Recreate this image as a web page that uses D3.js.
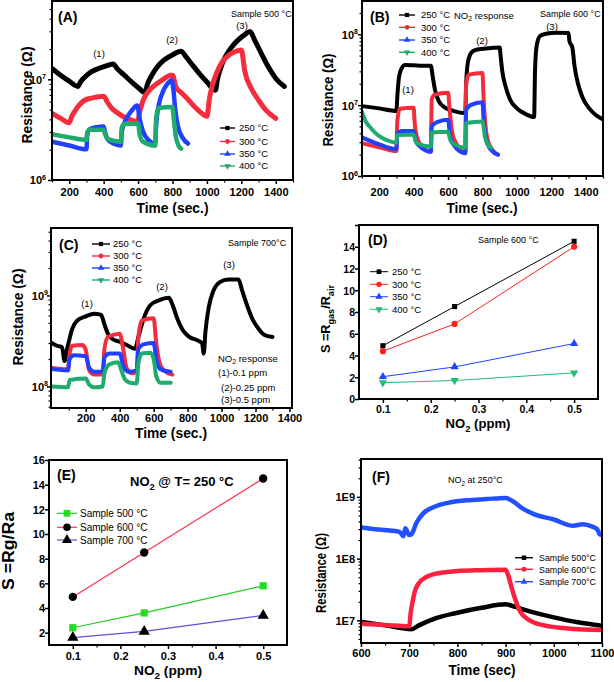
<!DOCTYPE html>
<html><head><meta charset="utf-8">
<script src="https://cdn.jsdelivr.net/npm/d3@7"></script>
<style>body{margin:0;background:#fff}svg{display:block}</style>
</head><body>
<svg id="c" width="614" height="682"></svg>
<script>
// ---------------- DATA ----------------
const tempLabels = ["250 °C", "300 °C", "350 °C", "400 °C"];
const timeTicks = [200, 400, 600, 800, 1000, 1200, 1400];
const timeMinor = [100, 300, 500, 700, 900, 1100, 1300, 1500];
const timeTicksF = [600, 700, 800, 900, 1000, 1100];
const timeMinorF = [650, 750, 850, 950, 1050];
const concTicks = [0.1, 0.2, 0.3, 0.4, 0.5];
const concMinor = [0.15, 0.25, 0.35, 0.45];
const sTicksD = [0, 2, 4, 6, 8, 10, 12, 14, 16];
const sTicksE = [2, 4, 6, 8, 10, 12, 14, 16];

// Panel A (sample 500 °C) : [time, resistance]
const a250 = [[100,1.28e7],[150,1.1e7],[200,9.6e6],[250,8.5e6],[265,9.4e6],[290,1.05e7],[330,1.19e7],[370,1.28e7],[410,1.35e7],[455,1.42e7],[480,1.27e7],[520,1.1e7],[560,9.5e6],[600,8.3e6],[640,7.4e6],[655,9.0e6],[680,1.1e7],[710,1.32e7],[750,1.55e7],[800,1.75e7],[850,1.9e7],[880,1.66e7],[920,1.36e7],[960,1.12e7],[1000,9.4e6],[1050,7.8e6],[1060,9.8e6],[1080,1.3e7],[1105,1.65e7],[1140,2.05e7],[1180,2.45e7],[1220,2.78e7],[1250,2.98e7],[1280,2.4e7],[1320,1.75e7],[1360,1.3e7],[1400,1.02e7],[1450,8.5e6]];
const a300 = [[100,4.6e6],[150,4.1e6],[200,3.7e6],[215,4.3e6],[235,4.9e6],[260,5.6e6],[290,6.2e6],[330,6.5e6],[370,6.7e6],[400,6.8e6],[420,6.0e6],[445,5.2e6],[475,4.7e6],[510,4.3e6],[550,4.0e6],[597,3.8e6],[610,4.8e6],[630,6.2e6],[660,7.6e6],[700,8.8e6],[740,9.8e6],[790,1.1e7],[800,1.1e7],[820,8.4e6],[850,7.4e6],[880,6.6e6],[930,5.3e6],[970,4.6e6],[1000,4.3e6],[1015,6.5e6],[1030,8.5e6],[1060,1.2e7],[1090,1.5e7],[1130,1.75e7],[1170,1.9e7],[1200,1.96e7],[1220,1.2e7],[1258,8.1e6],[1300,6.2e6],[1340,5.0e6],[1400,4.1e6]];
const a350 = [[100,2.4e6],[200,2.2e6],[300,2.02e6],[305,2.8e6],[320,3.2e6],[360,3.35e6],[400,3.4e6],[410,2.9e6],[425,2.5e6],[460,2.3e6],[500,2.2e6],[505,3.0e6],[530,4.0e6],[560,4.8e6],[595,5.5e6],[610,4.0e6],[630,3.0e6],[660,2.5e6],[700,2.3e6],[705,3.5e6],[720,5.5e6],[745,7.6e6],[770,9.0e6],[795,9.8e6],[805,8.0e6],[815,5.2e6],[830,3.5e6],[860,2.6e6],[890,2.3e6]];
const a400 = [[100,2.85e6],[200,2.65e6],[300,2.5e6],[305,3.0e6],[320,3.15e6],[400,3.15e6],[410,2.8e6],[425,2.55e6],[500,2.4e6],[505,3.3e6],[520,3.6e6],[600,3.65e6],[610,2.8e6],[630,2.4e6],[700,2.2e6],[705,4.2e6],[720,5.2e6],[800,5.3e6],[808,4.0e6],[818,2.8e6],[835,2.2e6],[850,2.05e6]];

// Panel B (sample 600 °C)
const b250 = [[100,9.7e6],[200,9.0e6],[300,8.3e6],[305,1.3e7],[315,2.5e7],[330,3.3e7],[350,3.7e7],[400,3.65e7],[450,3.6e7],[500,3.6e7],[510,2.6e7],[525,1.6e7],[545,1.15e7],[580,9.3e6],[630,8.3e6],[700,7.7e6],[705,2.0e7],[715,4.0e7],[735,5.5e7],[760,6.0e7],[820,6.3e7],[900,6.5e7],[905,5.0e7],[915,3.0e7],[935,1.8e7],[960,1.2e7],[1000,9.0e6],[1050,7.5e6],[1100,6.8e6],[1105,3.0e7],[1115,7.0e7],[1135,9.5e7],[1170,1.02e8],[1230,1.05e8],[1300,1.04e8],[1305,8.0e7],[1322,6.5e7],[1335,3.5e7],[1355,2.0e7],[1380,1.3e7],[1420,9.0e6],[1460,7.2e6],[1500,6.3e6]];
const b300 = [[100,2.9e6],[200,2.55e6],[300,2.25e6],[305,6.0e6],[320,8.9e6],[400,9.2e6],[405,6.0e6],[420,3.5e6],[450,2.6e6],[500,2.2e6],[505,1.2e7],[520,1.4e7],[600,1.5e7],[610,8.0e6],[625,4.0e6],[650,2.8e6],[700,2.1e6],[705,2.0e7],[720,2.7e7],[800,2.85e7],[805,1.5e7],[815,6.0e6],[830,3.2e6],[860,2.3e6],[890,2.0e6]];
const b350 = [[100,3.5e6],[200,2.8e6],[300,2.4e6],[305,4.0e6],[330,4.3e6],[400,4.3e6],[410,3.2e6],[430,2.7e6],[500,2.2e6],[505,5.0e6],[540,5.8e6],[600,6.2e6],[610,4.0e6],[630,2.8e6],[700,2.1e6],[705,8.5e6],[730,1.0e7],[800,1.1e7],[805,7.0e6],[815,4.0e6],[830,2.8e6],[860,2.2e6],[890,2.0e6]];
const b400 = [[100,8.0e6],[120,6.0e6],[150,4.8e6],[180,4.0e6],[220,3.4e6],[260,3.1e6],[300,2.95e6],[305,3.8e6],[400,3.85e6],[410,3.2e6],[420,2.9e6],[500,2.6e6],[505,4.1e6],[600,4.2e6],[610,3.4e6],[620,3.0e6],[700,2.5e6],[705,5.6e6],[800,5.9e6],[815,3.5e6],[830,2.8e6],[850,2.5e6]];

// Panel C (sample 700 °C)
const c250 = [[0,3.0e8],[30,2.8e8],[60,2.7e8],[75,1.9e8],[90,2.6e8],[100,3.1e8],[120,4.3e8],[150,5.3e8],[200,5.9e8],[250,6.3e8],[290,6.1e8],[310,4.8e8],[330,3.8e8],[360,3.3e8],[400,3.1e8],[450,2.8e8],[490,2.6e8],[510,3.5e8],[540,5.5e8],[580,7.8e8],[630,8.8e8],[690,9.4e8],[710,8.0e8],[740,5.5e8],[770,4.2e8],[810,3.5e8],[860,3.2e8],[885,3.0e8],[895,2.3e8],[905,4.0e8],[925,7.5e8],[950,1.1e9],[990,1.4e9],[1040,1.5e9],[1100,1.5e9],[1120,1.15e9],[1150,7.8e8],[1180,5.6e8],[1210,4.5e8],[1250,3.7e8],[1300,3.5e8]];
const c300 = [[0,1.6e8],[95,1.55e8],[105,2.3e8],[120,2.8e8],[180,2.85e8],[200,2.5e8],[220,1.5e8],[250,1.35e8],[300,1.35e8],[310,2.6e8],[330,3.5e8],[400,3.8e8],[420,2.6e8],[440,1.6e8],[470,1.4e8],[500,1.45e8],[510,3.5e8],[530,5.3e8],[600,5.6e8],[615,3.0e8],[640,1.7e8],[670,1.45e8],[710,1.35e8]];
const c350 = [[0,1.55e8],[95,1.5e8],[105,2.0e8],[130,2.2e8],[200,2.15e8],[220,1.6e8],[250,1.45e8],[300,1.45e8],[310,2.1e8],[340,2.3e8],[400,2.3e8],[420,1.7e8],[450,1.45e8],[500,1.5e8],[510,2.6e8],[540,2.9e8],[600,3.0e8],[615,2.0e8],[640,1.55e8],[700,1.45e8]];
const c400 = [[0,1.0e8],[95,0.98e8],[105,1.18e8],[200,1.22e8],[220,1.05e8],[250,0.98e8],[300,1.0e8],[310,1.4e8],[340,1.75e8],[390,1.85e8],[410,1.5e8],[430,1.2e8],[460,1.1e8],[500,1.08e8],[510,1.8e8],[530,2.3e8],[580,2.35e8],[600,2.0e8],[615,1.3e8],[640,1.1e8],[700,1.1e8]];

// Panel D (sample 600 °C) : response vs NO2 ppm
const conc = [0.1, 0.25, 0.5];
const d250 = [4.9, 8.5, 14.5];
const d300 = [4.4, 6.9, 14.0];
const d350 = [2.05, 2.95, 5.1];
const d400 = [1.5, 1.7, 2.4];

// Panel E (250 °C)
const sampleLabels = ["Sample 500 °C", "Sample 600 °C", "Sample 700 °C"];
const e500 = [2.4, 3.6, 5.8];
const e600 = [4.9, 8.5, 14.5];
const e700 = [1.6, 2.1, 3.4];

// Panel F (250 °C)
const sampleLabelsF = ["Sample 500°C", "Sample 600°C", "Sample 700°C"];
const f500 = [[600,9.5e6],[650,8.3e6],[705,7.2e6],[720,8.3e6],[750,1.05e7],[800,1.33e7],[850,1.6e7],[900,1.82e7],[920,1.65e7],[950,1.4e7],[1000,1.12e7],[1050,9.3e6],[1100,8.2e6]];
const f600 = [[600,8.8e6],[650,8.4e6],[700,8.0e6],[703,1.3e7],[707,2.0e7],[712,3.0e7],[720,4.0e7],[735,5.0e7],[760,5.8e7],[800,6.3e7],[850,6.5e7],[900,6.6e7],[905,5.5e7],[912,3.5e7],[920,2.2e7],[930,1.4e7],[950,1.0e7],[980,8.3e6],[1020,7.5e6],[1060,7.1e6],[1100,7.0e6]];
const f700 = [[600,3.2e8],[630,3.0e8],[660,2.85e8],[680,2.7e8],[688,2.3e8],[692,3.1e8],[700,2.4e8],[705,2.5e8],[715,3.8e8],[730,5.5e8],[750,6.8e8],[780,8.0e8],[820,8.8e8],[860,9.2e8],[900,9.6e8],[915,8.5e8],[935,6.5e8],[960,5.2e8],[1000,4.3e8],[1040,3.4e8],[1060,3.6e8],[1080,3.3e8],[1090,3.0e8],[1095,2.5e8],[1100,2.4e8]];

// ---------------- DRAWING ----------------
const FONT = '"Liberation Sans", Arial, Helvetica, sans-serif';
const svg = d3.select("#c");
const K = "#000", R = "#f42c3c", B = "#2040ff", G = "#1faa6e";
const SYM = {sq: d3.symbolSquare, ci: d3.symbolCircle, tu: d3.symbolTriangle, td: d3.symbolTriangle};

function sym(type, size) {
  return d3.symbol().type(SYM[type]).size(size)();
}
function marker(g, x, y, type, size, color) {
  g.append("path").attr("d", sym(type, size))
    .attr("transform", `translate(${x},${y})` + (type === "td" ? " rotate(180)" : ""))
    .attr("fill", color);
}
// rich text: parts = [[str, "sub"|"sup"|null], ...]
function rich(g, x, y, parts, o) {
  const t = g.append("text").attr("x", x).attr("y", y)
    .attr("font-family", FONT).attr("font-size", o.fs)
    .attr("font-weight", o.bold ? "bold" : "normal")
    .attr("text-anchor", o.anchor || "start").attr("fill", "#000");
  if (o.rot) t.attr("transform", `rotate(-90,${x},${y})`);
  if (o.len) t.attr("textLength", o.len).attr("lengthAdjust", "spacingAndGlyphs");
  let shift = 0;
  parts.forEach(([s, kind]) => {
    const sp = t.append("tspan").text(s);
    let target = 0;
    if (kind === "sub") { target = o.fs * 0.3; sp.attr("font-size", o.fs * 0.72); }
    if (kind === "sup") { target = -o.fs * 0.4; sp.attr("font-size", o.fs * 0.72); }
    if (target - shift !== 0) sp.attr("dy", target - shift);
    shift = target;
  });
  return t;
}

function panel(p) {
  const g = svg.append("g");
  const x = d3.scaleLinear().domain(p.xd).range([p.l, p.r]);
  const y = (p.log ? d3.scaleLog() : d3.scaleLinear()).domain(p.yd).range([p.b, p.t]);
  const cid = "clip" + p.name;
  svg.append("clipPath").attr("id", cid).append("rect")
    .attr("x", p.l).attr("y", p.t).attr("width", p.r - p.l).attr("height", p.b - p.t);
  const plot = g.append("g").attr("clip-path", `url(#${cid})`);

  p.series.forEach(s => {
    const pts = s.data;
    const line = d3.line().x(d => x(d[0])).y(d => y(d[1]))
      .curve(s.linear ? d3.curveLinear : d3.curveMonotoneX);
    plot.append("path").datum(pts).attr("d", line).attr("fill", "none")
      .attr("stroke", s.color).attr("stroke-width", s.width)
      .attr("stroke-linejoin", "round").attr("stroke-linecap", "round");
    if (s.marker) pts.forEach(d => marker(plot, x(d[0]), y(d[1]), s.marker, s.msize, s.mcolor || s.color));
  });

  // frame
  g.append("rect").attr("x", p.l).attr("y", p.t).attr("width", p.r - p.l).attr("height", p.b - p.t)
    .attr("fill", "none").attr("stroke", "#000").attr("stroke-width", 2);

  // x axis
  const gx = g.append("g").attr("transform", `translate(0,${p.b})`)
    .call(d3.axisBottom(x).tickValues(p.xt).tickSize(4).tickSizeOuter(0).tickFormat(p.xf || d3.format("d")));
  gx.select(".domain").remove();
  gx.attr("font-family", FONT).attr("font-size", p.tfs).attr("font-weight", "bold");
  gx.selectAll("line").attr("stroke-width", 1.5);
  gx.selectAll("text").attr("dy", null).attr("y", p.xly - p.b).attr("fill", "#000");
  const gxm = g.append("g").attr("transform", `translate(0,${p.b})`)
    .call(d3.axisBottom(x).tickValues(p.xm).tickSize(2.5).tickFormat(""));
  gxm.select(".domain").remove();
  gxm.selectAll("line").attr("stroke-width", 1.2);

  // y axis
  const gy = g.append("g").attr("transform", `translate(${p.l},0)`)
    .call(d3.axisLeft(y).tickValues(p.yt).tickSize(4).tickSizeOuter(0).tickFormat(p.yf || (d => d)));
  gy.select(".domain").remove();
  gy.attr("font-family", FONT).attr("font-size", p.tfs).attr("font-weight", "bold");
  gy.selectAll("line").attr("stroke-width", 1.5);
  gy.selectAll("text").attr("x", p.ylx - p.l).attr("dy", "0.36em").attr("fill", "#000");
  if (p.sup) {
    gy.selectAll("text").each(function (d) {
      const t = d3.select(this); t.text("");
      t.append("tspan").text("10");
      t.append("tspan").attr("font-size", p.tfs * 0.65).attr("dy", -p.tfs * 0.45).text(Math.round(Math.log10(d)));
    });
  }
  if (p.ym) {
    const gym = g.append("g").attr("transform", `translate(${p.l},0)`)
      .call(d3.axisLeft(y).tickValues(p.ym).tickSize(2.5).tickFormat(""));
    gym.select(".domain").remove();
    gym.selectAll("line").attr("stroke-width", 1.2);
  }
  if (p.clipTop) gy.selectAll("text").filter(d => d === p.yd[1]).attr("clip-path", `url(#${p.clipTop})`);

  // titles
  rich(g, p.xT.x, p.xT.y, p.xT.parts, {fs: p.xT.fs, bold: true, anchor: "middle", len: p.xT.len});
  rich(g, p.yT.x, p.yT.y, p.yT.parts, {fs: p.yT.fs, bold: true, anchor: "middle", len: p.yT.len, rot: true});

  // legend
  if (p.leg) p.leg.items.forEach((it, i) => {
    const cy = p.leg.ys[i];
    g.append("line").attr("x1", p.leg.x1).attr("x2", p.leg.x2).attr("y1", cy).attr("y2", cy)
      .attr("stroke", it.color).attr("stroke-width", p.leg.lw || 1.4);
    marker(g, (p.leg.x1 + p.leg.x2) / 2, cy, it.marker, p.leg.ms, it.mcolor || it.color);
    rich(g, p.leg.tx, cy + p.leg.fs * 0.36, [[it.label, null]], {fs: p.leg.fs, len: p.leg.len});
  });
  // annotations
  (p.notes || []).forEach(n => rich(g, n.x, n.y, n.parts, {fs: n.fs, bold: n.bold, anchor: n.anchor}));
  return g;
}

const timeXT = [["Time (sec.)", null]];
const resYT = [["Resistance (Ω)", null]];
const logMinor = (lo, hi) => {
  const out = [];
  for (let e = 5; e <= 9; e++) for (let k = 2; k <= 9; k++) { const v = k * 10 ** e; if (v > lo && v < hi) out.push(v); }
  return out;
};
const legA = (items) => items.map((lbl, i) => ({label: lbl, color: [K, R, B, G][i], marker: ["sq", "ci", "tu", "td"][i]}));

// Panel A
panel({
  name: "A", l: 52, r: 293, t: 1, b: 180, xd: [100, 1500], log: true, yd: [1e6, 6e7],
  xt: timeTicks, xm: timeMinor, yt: [1e6, 1e7], ym: logMinor(1e6, 6e7), sup: true,
  tfs: 11, xly: 196, ylx: 46,
  xT: {x: 172.5, y: 213, parts: timeXT, fs: 14, len: 72},
  yT: {x: 32, y: 95, parts: resYT, fs: 14, len: 97},
  series: [
    {data: a250, color: K, width: 5}, {data: a300, color: R, width: 5},
    {data: a350, color: B, width: 4.5}, {data: a400, color: G, width: 4.5}],
  leg: {items: legA(tempLabels), ys: [128, 141.5, 154, 166], x1: 220, x2: 235, tx: 239, fs: 9.5, ms: 18},
  notes: [
    {x: 58, y: 21.5, parts: [["(A)", null]], fs: 14, bold: true},
    {x: 231, y: 16.5, parts: [["Sample 500 °C", null]], fs: 9},
    {x: 99, y: 57, parts: [["(1)", null]], fs: 9.5, anchor: "middle"},
    {x: 172, y: 42.5, parts: [["(2)", null]], fs: 9.5, anchor: "middle"},
    {x: 242, y: 29, parts: [["(3)", null]], fs: 9.5, anchor: "middle"}]
});

// Panel B
panel({
  name: "B", l: 362, r: 603, t: 1, b: 176, xd: [100, 1500], log: true, yd: [1e6, 2.95e8],
  xt: timeTicks, xm: timeMinor, yt: [1e6, 1e7, 1e8], ym: logMinor(1e6, 2.95e8), sup: true,
  tfs: 11, xly: 196, ylx: 358,
  xT: {x: 482, y: 213, parts: timeXT, fs: 14, len: 71},
  yT: {x: 333, y: 100, parts: resYT, fs: 14, len: 93},
  series: [
    {data: b250, color: K, width: 4}, {data: b300, color: R, width: 4},
    {data: b350, color: B, width: 4}, {data: b400, color: G, width: 4}],
  leg: {items: legA(tempLabels), ys: [15, 27.3, 40, 52.3], x1: 399, x2: 415, tx: 421, fs: 9.5, ms: 18},
  notes: [
    {x: 370, y: 21.5, parts: [["(B)", null]], fs: 14, bold: true},
    {x: 454, y: 18.5, parts: [["NO", null], ["2", "sub"], [" response", null]], fs: 9.5},
    {x: 540, y: 17, parts: [["Sample 600 °C", null]], fs: 9},
    {x: 408, y: 93, parts: [["(1)", null]], fs: 9.5, anchor: "middle"},
    {x: 482, y: 44, parts: [["(2)", null]], fs: 9.5, anchor: "middle"},
    {x: 552, y: 30, parts: [["(3)", null]], fs: 9.5, anchor: "middle"}]
});

// Panel C
panel({
  name: "C", l: 51, r: 292, t: 228, b: 408, xd: [-5, 1415], log: true, yd: [5.8e7, 5.5e9],
  xt: timeTicks, xm: [100, 300, 500, 700, 900, 1100, 1300], yt: [1e8, 1e9], ym: logMinor(5.8e7, 5.5e9), sup: true,
  tfs: 11, xly: 422, ylx: 48,
  xT: {x: 171, y: 438, parts: timeXT, fs: 14, len: 72},
  yT: {x: 23, y: 317, parts: resYT, fs: 14, len: 97},
  series: [
    {data: c250, color: K, width: 4}, {data: c300, color: R, width: 4},
    {data: c350, color: B, width: 4}, {data: c400, color: G, width: 4}],
  leg: {items: legA(tempLabels), ys: [244, 256, 268, 280], x1: 92, x2: 110, tx: 113, fs: 9.5, ms: 18},
  notes: [
    {x: 59, y: 250, parts: [["(C)", null]], fs: 14, bold: true},
    {x: 228, y: 245.5, parts: [["Sample 700°C", null]], fs: 9},
    {x: 87, y: 307, parts: [["(1)", null]], fs: 9.5, anchor: "middle"},
    {x: 162, y: 290, parts: [["(2)", null]], fs: 9.5, anchor: "middle"},
    {x: 229, y: 268, parts: [["(3)", null]], fs: 9.5, anchor: "middle"},
    {x: 218, y: 361.5, parts: [["NO", null], ["2", "sub"], [" response", null]], fs: 9.5},
    {x: 218, y: 375.5, parts: [["(1)-0.1 ppm", null]], fs: 9.5},
    {x: 221, y: 390.5, parts: [["(2)-0.25 ppm", null]], fs: 9.5},
    {x: 221, y: 402.5, parts: [["(3)-0.5 ppm", null]], fs: 9.5}]
});

// Panel D
svg.append("clipPath").attr("id", "clipDtop").append("rect").attr("x", 300).attr("y", 224).attr("width", 100).attr("height", 30);
const toPts = (xs, ys) => xs.map((v, i) => [v, ys[i]]);
panel({
  name: "D", l: 359, r: 598, t: 225, b: 399, xd: [0.05, 0.55], log: false, yd: [0, 16],
  xt: concTicks, xm: concMinor, yt: sTicksD, xf: d3.format(".1f"),
  tfs: 10.5, xly: 413, ylx: 355, clipTop: "clipDtop",
  xT: {x: 478, y: 428, parts: [["NO", null], ["2", "sub"], [" (ppm)", null]], fs: 13, len: 65},
  yT: {x: 330, y: 319, parts: [["S =R", null], ["gas", "sub"], ["/R", null], ["air", "sub"]], fs: 13, len: 68},
  series: [
    {data: toPts(conc, d250), color: K, width: 1, marker: "sq", msize: 26, linear: true},
    {data: toPts(conc, d300), color: "#ff2020", width: 1, marker: "ci", msize: 30, linear: true},
    {data: toPts(conc, d350), color: "#2244ff", width: 1, marker: "tu", msize: 30, linear: true},
    {data: toPts(conc, d400), color: "#22bb77", width: 1, marker: "td", msize: 30, linear: true}],
  leg: {items: tempLabels.map((lbl, i) => ({label: lbl, color: [K, "#ff2020", "#2244ff", "#22bb77"][i], marker: ["sq", "ci", "tu", "td"][i]})),
        ys: [271.7, 284.3, 296.7, 309.3], x1: 370, x2: 388, tx: 392, fs: 9.5, ms: 22, lw: 1},
  notes: [
    {x: 368, y: 245, parts: [["(D)", null]], fs: 14, bold: true},
    {x: 478, y: 242.5, parts: [["Sample 600 °C", null]], fs: 9}]
});

// Panel E
panel({
  name: "E", l: 49, r: 287, t: 460, b: 645, xd: [0.05, 0.55], log: false, yd: [1, 16],
  xt: concTicks, xm: concMinor, yt: sTicksE, xf: d3.format(".1f"),
  tfs: 11, xly: 660, ylx: 45,
  xT: {x: 168, y: 675, parts: [["NO", null], ["2", "sub"], [" (ppm)", null]], fs: 13, len: 68},
  yT: {x: 14, y: 551, parts: [["S =Rg/Ra", null]], fs: 16, len: 78},
  series: [
    {data: toPts(conc, e500), color: "#22cc22", width: 1.2, marker: "sq", msize: 52, mcolor: "#22dd22", linear: true},
    {data: toPts(conc, e600), color: "#ff3050", width: 1.2, marker: "ci", msize: 55, mcolor: K, linear: true},
    {data: toPts(conc, e700), color: "#6a4cd8", width: 1.2, marker: "tu", msize: 55, mcolor: K, linear: true}],
  leg: {items: sampleLabels.map((lbl, i) => ({label: lbl, color: ["#22cc22", "#ff3050", "#6a4cd8"][i], marker: ["sq", "ci", "tu"][i], mcolor: ["#22dd22", K, K][i]})),
        ys: [513.3, 527.3, 540], x1: 57, x2: 77, tx: 80, fs: 10, ms: 45, lw: 1.2},
  notes: [
    {x: 57, y: 480, parts: [["(E)", null]], fs: 14, bold: true},
    {x: 130, y: 486, parts: [["NO", null], ["2", "sub"], [" @ T= 250 °C", null]], fs: 13, bold: true}]
});

// Panel F
panel({
  name: "F", l: 361, r: 602, t: 459, b: 643, xd: [600, 1100], log: true, yd: [4.3e6, 4.1e9],
  xt: timeTicksF, xm: timeMinorF, yt: [1e7, 1e8, 1e9], ym: logMinor(4.3e6, 4.1e9),
  yf: d => "1E" + Math.round(Math.log10(d)),
  tfs: 11, xly: 657, ylx: 355,
  xT: {x: 482, y: 675, parts: [["Time (sec)", null]], fs: 14, len: 67},
  yT: {x: 326, y: 573, parts: resYT, fs: 14, len: 80},
  series: [
    {data: f500, color: K, width: 4.5}, {data: f600, color: "#ff2040", width: 4.5},
    {data: f700, color: "#2050ff", width: 4.5}],
  leg: {items: sampleLabelsF.map((lbl, i) => ({label: lbl, color: [K, "#ff2040", "#2050ff"][i], marker: ["sq", "ci", "tu"][i]})),
        ys: [557.7, 569.3, 581.7], x1: 515, x2: 533, tx: 539, fs: 9.5, len: 57, ms: 20, lw: 1.4},
  notes: [
    {x: 372, y: 481.5, parts: [["(F)", null]], fs: 14, bold: true},
    {x: 448, y: 483, parts: [["NO", null], ["2", "sub"], [" at 250°C", null]], fs: 9}]
});
</script>
</body></html>
